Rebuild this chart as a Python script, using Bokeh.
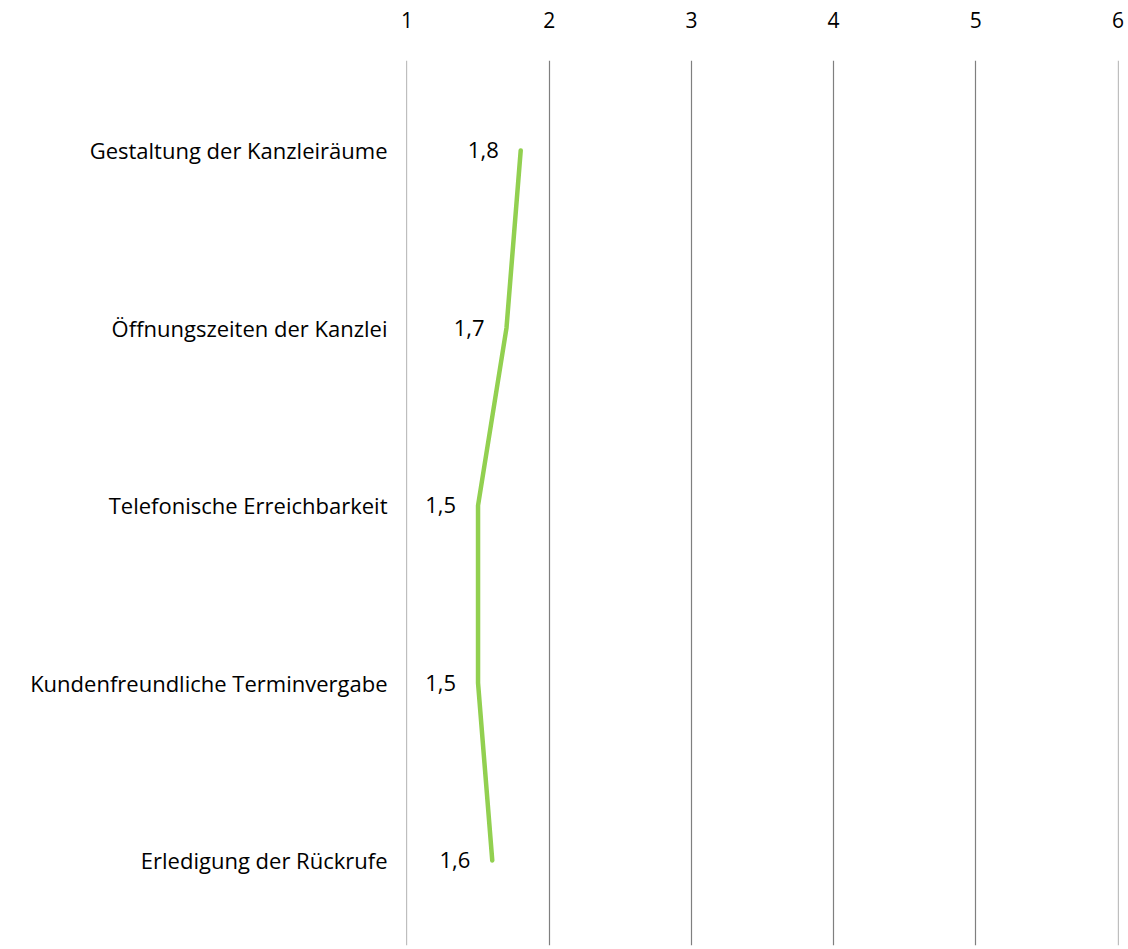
from bokeh.plotting import figure
from bokeh.models import Range1d, FixedTicker, ColumnDataSource
from bokeh.core.properties import value
from bokeh.embed import file_html
from bokeh.resources import INLINE

categories = ["Gestaltung der Kanzleiräume", "Öffnungszeiten der Kanzlei",
              "Telefonische Erreichbarkeit", "Kundenfreundliche Terminvergabe",
              "Erledigung der Rückrufe"]
values = [1.8, 1.7, 1.5, 1.5, 1.6]
x_ticks = [1, 2, 3, 4, 5, 6]

FONT = "Open Sans"
pos = list(range(len(categories)))
labels = [f"{v:.1f}".replace(".", ",") for v in values]
src = ColumnDataSource(dict(x=values, y=pos, lab=labels))

p = figure(width=1124, height=946, output_backend="svg", toolbar_location=None,
           x_range=Range1d(0.997, 6.003), y_range=Range1d(4.479, -0.507),
           x_axis_location="above", min_border_left=406, min_border_right=6,
           min_border_top=60, min_border_bottom=1)
p.outline_line_color = None
p.ygrid.visible = False
p.xgrid.grid_line_color = "#7f7f7f"
p.xgrid.grid_line_width = 1.2
p.xgrid.ticker = FixedTicker(ticks=x_ticks)

xa = p.xaxis[0]
xa.ticker = FixedTicker(ticks=x_ticks)
xa.axis_line_color = None
xa.major_tick_line_color = None
xa.minor_tick_line_color = None
xa.major_label_text_font = FONT
xa.major_label_text_font_size = "21px"
xa.major_label_text_color = "#000000"
xa.major_label_standoff = 27

ya = p.yaxis[0]
ya.ticker = FixedTicker(ticks=pos)
ya.major_label_overrides = {i: c for i, c in enumerate(categories)}
ya.axis_line_color = None
ya.major_tick_line_color = None
ya.minor_tick_line_color = None
ya.major_label_text_font = FONT
ya.major_label_text_font_size = "22px"
ya.major_label_text_color = "#000000"
ya.major_label_standoff = 13

p.line("x", "y", source=src, line_color="#92D050", line_width=4.5, line_cap="round", line_join="round")
p.text("x", "y", text="lab", source=src, x_offset=-22, text_align="right", text_baseline="middle",
       text_font=value(FONT), text_font_size="22px", text_color="#000000")

open("out.html", "w").write(file_html(p, INLINE))
